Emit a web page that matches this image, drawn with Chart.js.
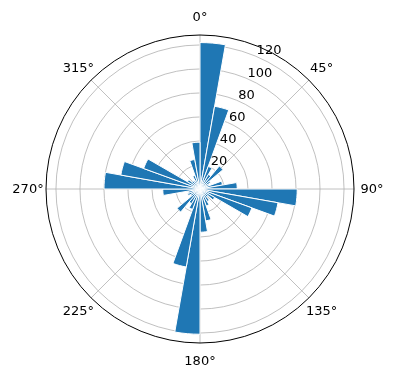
<!DOCTYPE html>
<html>
<head>
<meta charset="utf-8">
<script src="https://cdn.jsdelivr.net/npm/chart.js@4"></script>
<style>
    html, body { margin: 0; padding: 0; background: #fff; }
    #wrap { width: 396px; height: 380px; }
</style>
</head>
<body>
<div id="wrap"><canvas id="rose" width="396" height="380"></canvas></div>
<script>
// 36 direction bins of 10 degrees, clockwise from north
var binLabels = [];
for (var b = 0; b < 36; b++) binLabels.push((b * 10) + '°');

var counts = [
    122, 70, 20, 14, 25, 10, 8, 19, 31,
    81, 66, 46, 14, 9, 12, 15, 27, 36,
    121, 66, 18, 14, 25, 9, 11, 10, 31,
    80, 67, 50, 12, 9, 8, 12, 25, 39
];

var radialTicks = [20, 40, 60, 80, 100, 120];
var rMax = 128.3;

var angleTicks = [0, 45, 90, 135, 180, 225, 270, 315];
var angleTickLabels = ['0°', '45°', '90°', '135°', '180°', '225°', '270°', '315°'];

var FONT = '13px "DejaVu Sans", sans-serif';

function pointAt(scale, deg, dist) {
    var a = deg * Math.PI / 180;
    return { x: scale.xCenter + dist * Math.sin(a), y: scale.yCenter - dist * Math.cos(a) };
}

var polarDecor = {
    id: 'polarDecor',
    beforeDatasetsDraw: function(chart) {
        var s = chart.scales.r;
        var ctx = chart.ctx;
        ctx.save();
        ctx.strokeStyle = '#b0b0b0';
        ctx.lineWidth = 0.8;
        for (var i = 0; i < angleTicks.length; i++) {
            var p = pointAt(s, angleTicks[i], s.drawingArea);
            ctx.beginPath();
            ctx.moveTo(s.xCenter, s.yCenter);
            ctx.lineTo(p.x, p.y);
            ctx.stroke();
        }
        ctx.restore();
    },
    afterDatasetsDraw: function(chart) {
        var s = chart.scales.r;
        var ctx = chart.ctx;
        ctx.save();
        // outer spine
        ctx.strokeStyle = '#000';
        ctx.lineWidth = 1;
        ctx.beginPath();
        ctx.arc(s.xCenter, s.yCenter, s.drawingArea, 0, Math.PI * 2);
        ctx.stroke();

        ctx.fillStyle = '#000';
        ctx.font = FONT;
        // angle labels
        ctx.textAlign = 'center';
        ctx.textBaseline = 'middle';
        for (var i = 0; i < angleTicks.length; i++) {
            var p = pointAt(s, angleTicks[i], s.drawingArea + 18);
            ctx.fillText(angleTickLabels[i], p.x, p.y + 1);
        }
        // radial labels along 22.5 degrees
        ctx.textAlign = 'left';
        ctx.textBaseline = 'alphabetic';
        for (var j = 0; j < radialTicks.length; j++) {
            var q = pointAt(s, 22.5, s.getDistanceFromCenterForValue(radialTicks[j]));
            ctx.fillText(String(radialTicks[j]), q.x + 1.5, q.y - 1.5);
        }
        ctx.restore();
    }
};

new Chart(document.getElementById('rose'), {
    type: 'polarArea',
    data: {
        labels: binLabels,
        datasets: [{
            data: counts,
            backgroundColor: '#1f77b4',
            borderColor: '#ffffff',
            borderWidth: 1
        }]
    },
    options: {
        responsive: false,
        animation: false,
        layout: { padding: { left: 46, right: 42, top: 35, bottom: 37 } },
        plugins: {
            legend: { display: false },
            tooltip: { enabled: false }
        },
        scales: {
            r: {
                min: 0,
                max: rMax,
                startAngle: 0,
                ticks: { display: false, stepSize: 20, includeBounds: false },
                grid: { circular: true, color: '#b0b0b0', lineWidth: 0.8 },
                angleLines: { display: false },
                pointLabels: { display: false }
            }
        }
    },
    plugins: [polarDecor]
});
</script>
</body>
</html>
